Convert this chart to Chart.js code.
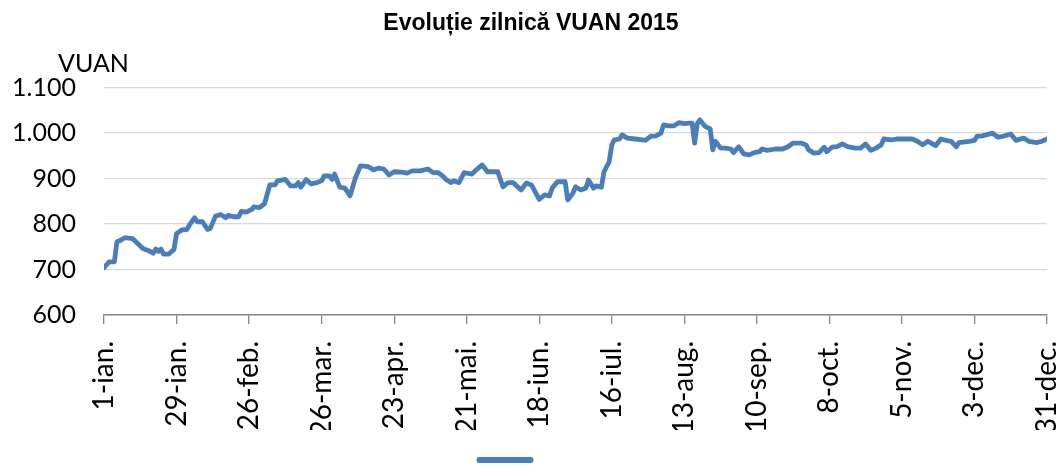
<!DOCTYPE html>
<html>
<head>
<meta charset="utf-8">
<script src="https://cdn.jsdelivr.net/npm/chart.js@4/dist/chart.umd.min.js"></script>
<style>
html, body { margin: 0; padding: 0; background: #fff; }
</style>
</head>
<body>
<canvas id="canvas_grafica" width="1062" height="465"></canvas>
<script>
// ziua din an (0 = 1 ian.) si valoarea VUAN
const zile = [0, 2, 4, 5, 6, 8, 11, 13, 15, 17, 19, 20, 21, 22, 23, 25, 27, 28, 30, 32, 33, 35, 36, 38, 40, 41, 43, 45, 47, 48,
  50, 52, 53, 55, 57, 58, 60, 62, 64, 66, 67, 70, 72, 74, 75, 76, 78, 80, 82, 84, 85, 87, 88, 89, 91, 93, 95, 97, 99, 102,
  104, 106, 108, 110, 112, 115, 117, 119, 122, 125, 127, 129, 131, 132, 134, 135, 137, 139, 142, 144, 146, 148, 150, 152, 154, 156, 158, 161, 163, 165,
  168, 170, 172, 173, 175, 178, 179, 181, 182, 184, 186, 187, 189, 190, 192, 193, 195, 196, 197, 199, 200, 202, 205, 208, 209, 211, 213, 215, 216, 218,
  220, 222, 224, 226, 227, 228, 229, 230, 232, 234, 235, 236, 238, 240, 242, 243, 245, 247, 249, 251, 253, 254, 256, 259, 262, 264, 266, 269, 271, 272,
  274, 276, 278, 279, 281, 283, 285, 287, 290, 292, 294, 296, 298, 300, 301, 304, 306, 309, 312, 314, 316, 318, 319, 321, 323, 325, 327, 329, 330, 334,
  336, 337, 339, 343, 345, 347, 350, 352, 355, 357, 360, 362, 364];
const valori = [704, 717, 717, 761, 763, 770, 768, 757, 746, 742, 736, 745, 740, 745, 734, 734, 744, 779, 787, 788, 798, 814, 805, 805, 788, 790, 817, 821, 814, 819,
  816, 816, 828, 826, 832, 838, 836, 845, 886, 886, 895, 898, 884, 884, 891, 881, 898, 888, 891, 895, 906, 906, 898, 910, 881, 879, 862, 901, 928, 926,
  919, 923, 921, 908, 915, 914, 912, 917, 917, 921, 913, 913, 904, 898, 891, 895, 891, 913, 910, 921, 930, 915, 915, 915, 882, 891, 891, 875, 890, 886,
  854, 864, 862, 879, 893, 893, 853, 868, 882, 875, 879, 897, 879, 884, 881, 915, 937, 974, 985, 987, 996, 989, 987, 985, 984, 993, 994, 1000, 1018, 1016,
  1016, 1023, 1021, 1022, 1022, 978, 1021, 1029, 1015, 1009, 963, 982, 967, 967, 965, 957, 970, 954, 952, 957, 959, 965, 962, 965, 965, 970, 978, 978, 974, 963,
  956, 957, 969, 959, 969, 970, 976, 970, 967, 967, 976, 962, 967, 974, 987, 985, 987, 987, 987, 982, 974, 982, 979, 972, 987, 984, 982, 970, 979, 982,
  984, 993, 994, 1000, 991, 993, 998, 984, 989, 982, 979, 982, 987];
const etichete_x = ['1-ian.', '29-ian.', '26-feb.', '26-mar.', '23-apr.', '21-mai.', '18-iun.', '16-iul.', '13-aug.', '10-sep.', '8-oct.', '5-nov.', '3-dec.', '31-dec.'];

const albastru = '#4A7EBB';

let canvas_graf = document.getElementById("canvas_grafica");
let puncte = zile.map((z, i) => ({ x: z, y: valori[i] }));

// eticheta "VUAN" deasupra axei verticale
const eticheta_vuan = {
  id: 'eticheta_vuan',
  afterDraw(chart) {
    let ctx = chart.ctx;
    ctx.save();
    ctx.font = '25px Lato, "Open Sans", sans-serif';
    ctx.fillStyle = '#000';
    ctx.textAlign = 'left';
    ctx.textBaseline = 'middle';
    ctx.fillText('VUAN', 58, 64);
    ctx.restore();
  }
};

new Chart(canvas_graf, {
  type: 'line',
  data: {
    datasets: [{
      label: '',
      data: puncte,
      borderColor: albastru,
      backgroundColor: albastru,
      borderWidth: 4.8,
      borderCapStyle: 'round',
      borderJoinStyle: 'round',
      pointRadius: 0,
      tension: 0,
      fill: false
    }]
  },
  options: {
    responsive: false,
    animation: false,
    devicePixelRatio: 1,
    layout: { padding: 0 },
    scales: {
      x: {
        type: 'linear',
        min: 0,
        max: 364,
        afterFit: (scale) => { scale.height = 115; scale.paddingRight = 15; },
        ticks: {
          stepSize: 28,
          autoSkip: false,
          minRotation: 90,
          maxRotation: 90,
          padding: 17,
          color: '#000',
          font: { family: 'Lato, "Open Sans", sans-serif', size: 28 },
          callback: (value) => etichete_x[Math.round(value / 28)]
        },
        grid: {
          drawOnChartArea: false,
          drawTicks: true,
          tickLength: 9,
          color: '#868686',
          lineWidth: 1.3
        },
        border: { display: true, color: '#868686', width: 1.5 }
      },
      y: {
        min: 600,
        max: 1100,
        afterFit: (scale) => { scale.width = 104; },
        ticks: {
          stepSize: 100,
          padding: 28,
          color: '#000',
          font: { family: 'Lato, "Open Sans", sans-serif', size: 25 },
          callback: (value) => String(value).replace(/\B(?=(\d{3})+(?!\d))/g, '.')
        },
        grid: { color: '#d9d9d9', lineWidth: 1.3, drawTicks: false },
        border: { display: false }
      }
    },
    plugins: {
      title: {
        display: true,
        text: 'Evoluție zilnică VUAN 2015',
        color: '#000',
        font: { family: '"Liberation Sans Narrow", "Liberation Sans", Arial, sans-serif', size: 23, weight: 'bold' },
        padding: { top: 10, bottom: 50 }
      },
      legend: {
        display: true,
        position: 'bottom',
        maxHeight: 35,
        labels: {
          boxWidth: 52,
          boxHeight: 1,
          padding: -22,
          font: { size: 104 }
        }
      },
      tooltip: { enabled: false }
    }
  },
  plugins: [eticheta_vuan]
});
</script>
</body>
</html>
